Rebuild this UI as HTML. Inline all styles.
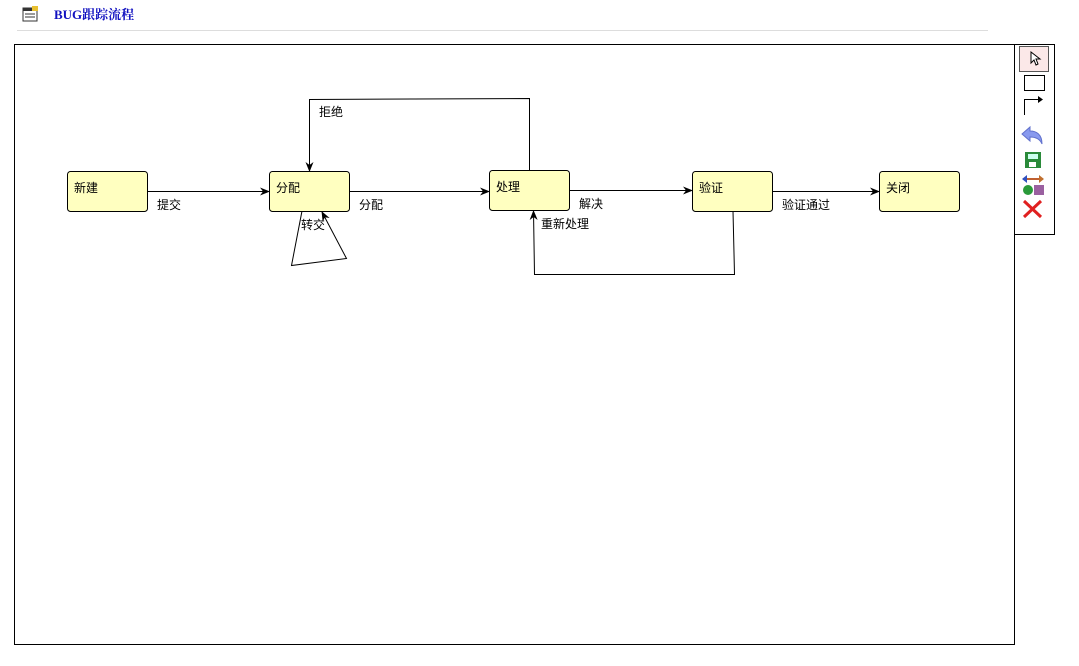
<!DOCTYPE html>
<html><head><meta charset="utf-8"><style>
body{margin:0;width:1079px;height:661px;background:#fff;overflow:hidden;font-family:"Liberation Sans","Noto Sans CJK SC",sans-serif;}
</style></head><body>
<svg width="1079" height="661" xmlns="http://www.w3.org/2000/svg" font-family="'Liberation Sans','Noto Sans CJK SC',sans-serif" font-size="12">
<defs><marker id="a" markerWidth="10" markerHeight="8" refX="9" refY="4" orient="auto" markerUnits="userSpaceOnUse"><path d="M0,0 L10,4 L0,8 L3,4 Z" fill="#000"/></marker></defs>
<!-- header -->
<rect x="23" y="8" width="14" height="13" fill="#fff" stroke="#333"/>
<rect x="23" y="8" width="14" height="3" fill="#333"/>
<line x1="25" y1="14" x2="35" y2="14" stroke="#333"/><line x1="25" y1="17" x2="35" y2="17" stroke="#333"/>
<rect x="32" y="6" width="6" height="5" fill="#e8c030"/>
<text x="54" y="19" font-family="'Liberation Serif','Noto Serif CJK SC',serif" font-weight="bold" font-size="13" fill="#1010c0">BUG跟踪流程</text>
<line x1="17" y1="30.5" x2="988" y2="30.5" stroke="#ddd"/>
<!-- canvas -->
<rect x="14.5" y="44.5" width="1000" height="600" fill="#fff" stroke="#000"/>
<!-- toolbar -->
<rect x="1014.5" y="44.5" width="40" height="190" fill="#fff" stroke="#000"/>
<rect x="1019.5" y="46.5" width="29" height="25" fill="#fbe8e8" stroke="#555"/>
<path d="M1031,52 L1031,63 L1034,60 L1036,65 L1038,64 L1036,59 L1040,59 Z" fill="#fff" stroke="#000"/>
<rect x="1024.5" y="75.5" width="20" height="15" fill="#fff" stroke="#000"/>
<path d="M1024.5,115 L1024.5,99.5 L1040,99.5" fill="none" stroke="#000"/>
<path d="M1038,96 L1043,99.5 L1038,103 Z" fill="#000"/>
<path d="M1042,144 C1042,134 1036,131 1030,131 L1030,127 L1022,134 L1030,141 L1030,137 C1036,137 1040,139 1042,144 Z" fill="#8899ee" stroke="#6070cc"/>
<rect x="1025" y="152" width="16" height="16" fill="#2a8a3a"/><rect x="1028" y="154" width="10" height="5" fill="#cfe"/><rect x="1029" y="162" width="7" height="5" fill="#fff"/>
<line x1="1023" y1="179" x2="1043" y2="179" stroke="#c06030" stroke-width="2"/><path d="M1022,179 L1027,175 L1027,183Z" fill="#3050c0"/><path d="M1044,179 L1039,175 L1039,183Z" fill="#c07030"/>
<circle cx="1028" cy="190" r="5" fill="#2a9a3a"/><rect x="1034" y="185" width="10" height="10" fill="#9a60a0"/>
<path d="M1024,201 L1041,217 M1041,201 L1024,217" stroke="#e02020" stroke-width="3"/>
<!-- connectors -->
<g stroke="#000" fill="none" stroke-width="1">
<line x1="147" y1="191.5" x2="269" y2="191.5" marker-end="url(#a)"/>
<line x1="349" y1="191.5" x2="489" y2="191.5" marker-end="url(#a)"/>
<line x1="569" y1="190.5" x2="692" y2="190.5" marker-end="url(#a)"/>
<line x1="772" y1="191.5" x2="879" y2="191.5" marker-end="url(#a)"/>
<polyline points="529.5,170 529.5,98.5 309.5,99.5 309.5,171" marker-end="url(#a)"/>
<polyline points="733,211 734.5,274.5 534.5,274.5 533.5,211" marker-end="url(#a)"/>
<polyline points="302,211 291.5,265.5 346.5,258.5 322,212" marker-end="url(#a)"/>
</g>
<!-- nodes -->
<g fill="#ffffc0" stroke="#000">
<rect x="67.5" y="171.5" width="80" height="40" rx="3"/>
<rect x="269.5" y="171.5" width="80" height="40" rx="3"/>
<rect x="489.5" y="170.5" width="80" height="40" rx="3"/>
<rect x="692.5" y="171.5" width="80" height="40" rx="3"/>
<rect x="879.5" y="171.5" width="80" height="40" rx="3"/>
</g>
<g fill="#000">
<text x="74" y="192">新建</text><text x="276" y="192">分配</text><text x="496" y="191">处理</text>
<text x="699" y="192">验证</text><text x="886" y="192">关闭</text>
<text x="157" y="209">提交</text><text x="359" y="209">分配</text><text x="579" y="208">解决</text>
<text x="782" y="209">验证通过</text><text x="319" y="116">拒绝</text><text x="541" y="228">重新处理</text>
<text x="301" y="229">转交</text>
</g>
</svg>
</body></html>
